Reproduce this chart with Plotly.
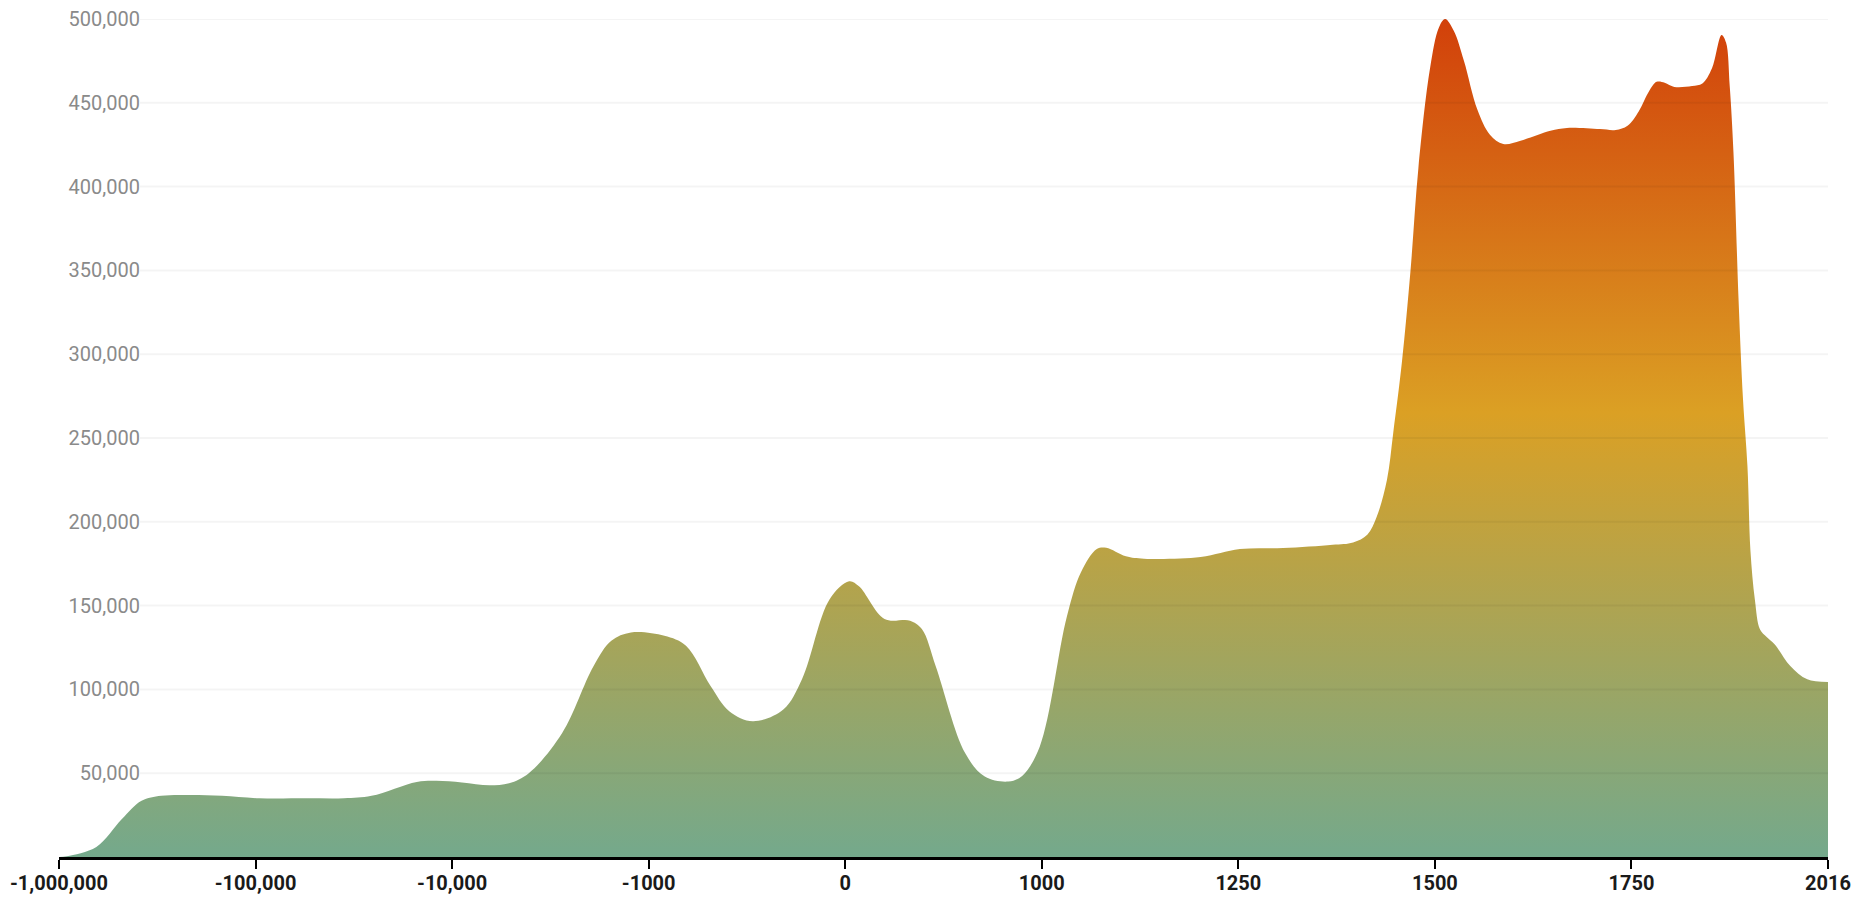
import numpy as np
import plotly.graph_objects as go

# Axis breakpoints: the x scale is piecewise linear, each segment equally wide
tick_years = [-1000000, -100000, -10000, -1000, 0, 1000, 1250, 1500, 1750, 2016]
tick_labels = ["-1,000,000", "-100,000", "-10,000", "-1000", "0", "1000", "1250", "1500", "1750", "2016"]

years = [
    -1000000, -964000, -829000, -712000, -622000, -532000, -397000, -253000,
    -98200, -76600, -59500, -46900, -26200, -17200,
    -9550, -8290, -7390, -6490, -4960, -3520, -2710, -1810,
    -920, -810, -685, -590, -470, -315, -220, -80,
    20, 70, 200, 330, 390, 460, 610, 710, 830, 900, 990,
    1032, 1050, 1070, 1082, 1107, 1130, 1202,
    1252, 1307, 1370, 1396, 1414, 1426, 1439, 1447, 1458, 1469, 1479, 1494,
    1505, 1513, 1524, 1537, 1554, 1570, 1587, 1609, 1647, 1668, 1710, 1730, 1745,
    1760, 1774, 1784, 1795, 1808, 1832, 1846, 1859, 1872, 1878, 1883, 1888, 1895,
    1901, 1907, 1911, 1917, 1924, 1933, 1944, 1965, 1988, 2016,
]

values = [
    0, 500, 6000, 22600, 33500, 36500, 37000, 36500,
    35000, 35000, 35000, 36500, 44800, 45500,
    44500, 42800, 44000, 50000, 74000, 114000, 129000, 134000,
    132000, 126000, 102000, 87000, 81000, 88000, 106000, 153600,
    164500, 161500, 142000, 141000, 136000, 114000, 62000, 48000, 45000, 48400, 66000,
    143600, 170000, 183700, 184500, 179400, 178000, 179000,
    183700, 184300, 186300, 187700, 192300, 203000, 225000, 253000, 295000, 350000, 411000, 471000,
    494800, 500000, 493000, 475000, 446000, 431000, 425400, 427400, 433300, 435000, 434300, 433800, 436300,
    445000, 457000, 462500, 462000, 459500, 460000, 461500, 470600, 490500, 486000, 460000, 421000, 332000,
    273000, 233000, 183000, 153600, 135700, 131300, 126800, 114000, 106000, 104400,
]

y_ticks = list(range(50000, 500001, 50000))

# Map years onto the segmented scale positions
x_pos = np.interp(years, tick_years, np.arange(len(tick_years)))

W, H = 1864, 901
ML, MR, MT, MB = 59, 36, 19, 44
grid_start = (140 - ML) / (W - ML - MR)

fig = go.Figure()
fig.add_trace(go.Scatter(
    x=x_pos, y=values,
    mode="lines",
    line=dict(shape="spline", smoothing=1.0, width=0, color="rgba(0,0,0,0)"),
    fill="tozeroy",
    fillgradient=dict(
        type="vertical",
        start=0, stop=500000,
        colorscale=[[0.0, "#74a98c"], [0.53, "#dba024"], [1.0, "#d2400a"]],
    ),
    hoverinfo="skip",
    showlegend=False,
))

# Light horizontal gridlines drawn over the area
shapes = [
    dict(type="line", xref="paper", yref="y", x0=grid_start, x1=1, y0=v, y1=v,
         line=dict(color="rgba(0,0,0,0.045)", width=2), layer="above")
    for v in y_ticks
]

fig.update_layout(
    width=W, height=H,
    autosize=False,
    margin=dict(l=ML, r=MR, t=MT, b=MB, pad=0, autoexpand=False),
    paper_bgcolor="white", plot_bgcolor="white",
    shapes=shapes,
    showlegend=False,
    xaxis=dict(
        range=[0, len(tick_years) - 1],
        tickmode="array", tickvals=list(range(len(tick_years))), ticktext=tick_labels,
        showgrid=False, zeroline=False, automargin=False,
        showline=True, linecolor="black", linewidth=3,
        ticks="outside", ticklen=9, tickwidth=2, tickcolor="black",
        ticklabelstandoff=-3,
        tickfont=dict(family="Roboto", size=20, color="#1a1a1a", weight="bold"),
        fixedrange=True,
    ),
    yaxis=dict(
        range=[0, 500000],
        anchor="free", position=grid_start, automargin=False,
        tickmode="array", tickvals=y_ticks, tickformat=",",
        showgrid=False, zeroline=False, showline=False,
        ticks="",
        tickfont=dict(family="Roboto", size=20, color="#8a8a8a"),
        fixedrange=True,
    ),
)

fig.write_html("out.html", config={"displayModeBar": False})
